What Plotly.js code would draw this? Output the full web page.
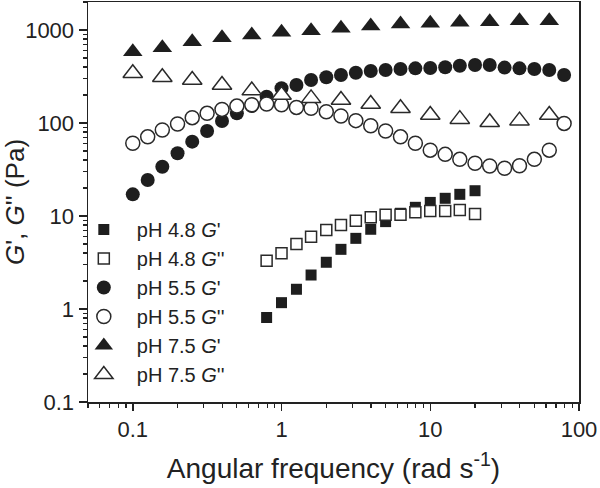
<!DOCTYPE html>
<html>
<head>
<meta charset="utf-8">
<script src="https://cdn.plot.ly/plotly-3.0.1.min.js"></script>
<style>html,body{margin:0;padding:0;background:#fff;}#chart{width:600px;height:488px;}</style>
</head>
<body>
<div id="chart"></div>
<script>
// Frequencies (rad/s)
const freq10 = [0.1,0.126,0.158,0.2,0.251,0.316,0.398,0.501,0.631,0.794,1,1.26,1.58,2,2.51,3.16,3.98,5.01,6.31,7.94,10,12.6,15.8,20,25.1,31.6,39.8,50.1,63.1,79.4];
const freq5 = [0.1,0.158,0.251,0.398,0.631,1,1.58,2.51,3.98,6.31,10,15.8,25.1,39.8,63.1];
const freq48 = [0.794,1,1.26,1.58,2,2.51,3.16,3.98,5.01,6.31,7.94,10,12.6,15.8,20];

// Moduli (Pa)
const pH48_Gp  = [0.81,1.17,1.63,2.32,3.18,4.38,5.75,7.2,8.7,10.7,12.4,14.0,15.5,17.1,18.7];
const pH48_Gpp = [3.31,3.97,5.0,5.99,7.07,8.0,8.9,9.7,10.3,10.3,11.0,11.3,11.3,11.6,10.5];
const pH55_Gp  = [17.1,24.4,33.9,47.2,63,82,105,127,152,192,236,256,290,310,328,347,362,371,381,387,390,397,413,421,421,394,387,381,371,328];
const pH55_Gpp = [60.5,71,84,97.5,114,127,140,152,157,160,157,147,144,132,119,106,93.5,82,71,60.5,51,46,40.7,36.9,34.5,32.6,34.7,40.7,51,99];
const pH75_Gp  = [585,645,748,826,884,945,983,1043,1104,1161,1180,1210,1228,1259,1259];
const pH75_Gpp = [342,310,290,256,223,200,184,177,160,144,122,110,102,106,122];

const names = ["pH 4.8 <i>G</i>'", "pH 4.8 <i>G</i>''", "pH 5.5 <i>G</i>'", "pH 5.5 <i>G</i>''", "pH 7.5 <i>G</i>'", "pH 7.5 <i>G</i>''"];
const xTickVals = [0.1, 1, 10, 100];
const xTickText = ['0.1', '1', '10', '100'];
const yTickVals = [0.1, 1, 10, 100, 1000];
const yTickText = ['0.1', '1', '10', '100', '1000'];

const dark = '#1e1e1e';
function tr(x, y, name, symbol, size, filled) {
  return {
    x: x, y: y, name: name, type: 'scatter', mode: 'markers',
    marker: {
      symbol: symbol, size: size,
      color: filled ? dark : '#ffffff',
      line: {color: filled ? dark : '#2a2a2a', width: filled ? 0 : 1.5}
    }
  };
}

const data = [
  tr(freq48, pH48_Gp, names[0], 'square', 11, true),
  tr(freq48, pH48_Gpp, names[1], 'square', 11, false),
  tr(freq10, pH55_Gp, names[2], 'circle', 14, true),
  tr(freq10, pH55_Gpp, names[3], 'circle', 14, false),
  tr(freq5, pH75_Gp, names[4], 'triangle-up', 17, true),
  tr(freq5, pH75_Gpp, names[5], 'triangle-up', 17, false)
];

const fontFam = 'Liberation Sans, Arial, sans-serif';
const axisCommon = {
  type: 'log', showgrid: false, zeroline: false,
  showline: true, linecolor: '#222', linewidth: 1.5, mirror: true,
  ticks: 'outside', tickcolor: '#222', tickwidth: 1.5,
  tickfont: {family: fontFam, size: 22, color: '#222'},
  minor: {ticks: 'outside', tickmode: 'linear', dtick: 'D1', ticklen: 4, tickwidth: 1.2, tickcolor: '#222', showgrid: false}
};

const layout = {
  width: 600, height: 488,
  margin: {l: 88, r: 21, t: 2, b: 86},
  paper_bgcolor: '#fff', plot_bgcolor: '#fff',
  font: {family: fontFam, color: '#222'},
  showlegend: true,
  legend: {
    x: -0.035, y: 0.48, xanchor: 'left', yanchor: 'top',
    bgcolor: 'rgba(0,0,0,0)', borderwidth: 0,
    font: {family: fontFam, size: 20, color: '#222'},
    itemwidth: 56, tracegroupgap: 0
  },
  xaxis: Object.assign({}, axisCommon, {
    range: [Math.log10(0.05), 2],
    tickmode: 'array', tickvals: xTickVals, ticktext: xTickText, ticklen: 7,
    title: {text: 'Angular frequency (rad s<sup>-1</sup>)', font: {family: fontFam, size: 28, color: '#222'}, standoff: 17}
  }),
  yaxis: Object.assign({}, axisCommon, {
    range: [-1, Math.log10(2000)],
    tickmode: 'array', tickvals: yTickVals, ticktext: yTickText, ticklen: 8,
    title: {text: "<i>G</i>', <i>G</i>'' (Pa)", font: {family: fontFam, size: 26, color: '#222'}, standoff: 0}
  })
};

Plotly.newPlot('chart', data, layout, {displayModeBar: false, staticPlot: true});
</script>
</body>
</html>
